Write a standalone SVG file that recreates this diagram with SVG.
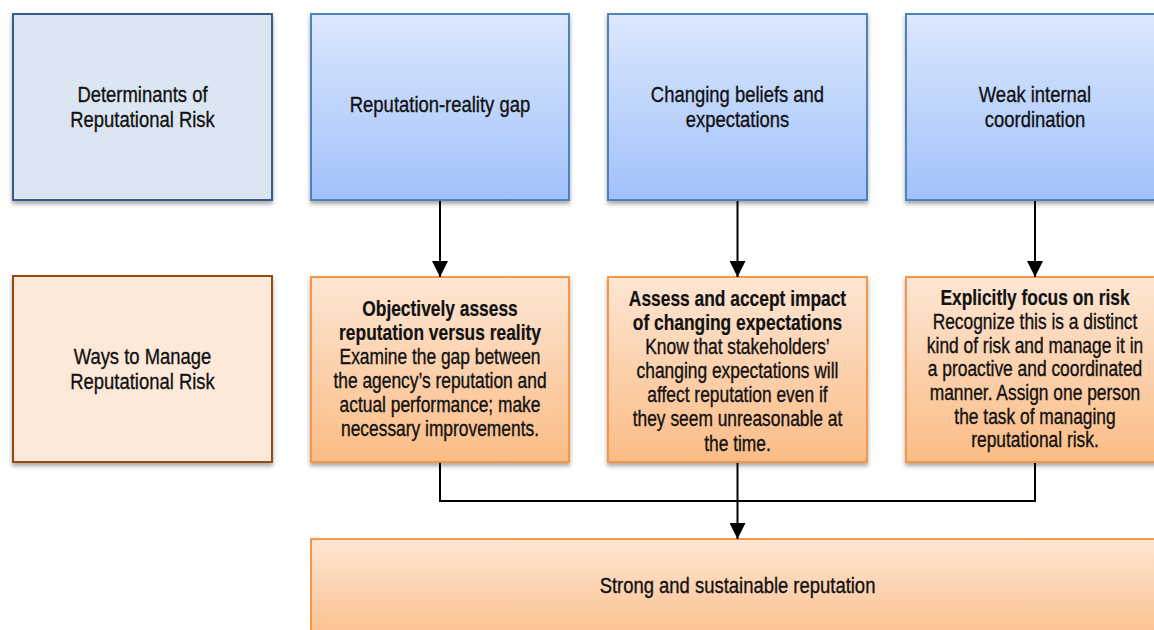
<svg xmlns="http://www.w3.org/2000/svg" width="1154" height="630" viewBox="0 0 1154 630">
  <defs>
    <linearGradient id="gBlue" x1="0" y1="0" x2="0" y2="1">
      <stop offset="0" stop-color="#dce8fe"/>
      <stop offset="1" stop-color="#a1c1fa"/>
    </linearGradient>
    <linearGradient id="gOrange" x1="0" y1="0" x2="0" y2="1">
      <stop offset="0" stop-color="#fde6d4"/>
      <stop offset="1" stop-color="#fbbc86"/>
    </linearGradient>
    <filter id="shadow" x="-5%" y="-5%" width="110%" height="115%">
      <feDropShadow dx="0" dy="3" stdDeviation="2" flood-color="#000" flood-opacity="0.35"/>
    </filter>
    <marker id="arrow" markerUnits="userSpaceOnUse" markerWidth="16" markerHeight="16" refX="16" refY="8" orient="auto">
      <path d="M0,0 L16,8 L0,16 z" fill="#000"/>
    </marker>
  </defs>
  <style>
    text { font-family: "Liberation Sans", Arial, sans-serif; fill: #111; stroke: #111; stroke-width: 0.35px; text-anchor: middle; }
    .lbl { font-size: 22.5px; }
    .body { font-size: 21.2px; }
    .b { font-weight: bold; stroke-width: 0.2px; }
    .hdrL { fill: #dce6f2; stroke: #385d8a; stroke-width: 2; }
    .wayL { fill: #fde9d9; stroke: #984807; stroke-width: 2; }
    .blue { fill: url(#gBlue); stroke: #4f81bd; stroke-width: 2; }
    .orange { fill: url(#gOrange); stroke: #f79646; stroke-width: 2; }
    .conn { fill: none; stroke: #000; stroke-width: 2; }
  </style>

  <g id="determinants">
    <rect class="hdrL" x="13" y="14" width="259" height="186" filter="url(#shadow)"/>
    <g transform="translate(142.5 0) scale(0.82 1)">
      <text class="lbl" x="0" y="102">Determinants of</text>
      <text class="lbl" x="0" y="127">Reputational Risk</text>
    </g>
  </g>
  <g id="gap">
    <rect class="blue" x="311" y="14" width="258" height="186" filter="url(#shadow)"/>
    <g transform="translate(440 0) scale(0.82 1)">
      <text class="lbl" x="0" y="112">Reputation-reality gap</text>
    </g>
  </g>
  <g id="beliefs">
    <rect class="blue" x="608" y="14" width="259" height="186" filter="url(#shadow)"/>
    <g transform="translate(737.5 0) scale(0.82 1)">
      <text class="lbl" x="0" y="102">Changing beliefs and</text>
      <text class="lbl" x="0" y="127">expectations</text>
    </g>
  </g>
  <g id="coordination">
    <rect class="blue" x="906" y="14" width="259" height="186" filter="url(#shadow)"/>
    <g transform="translate(1035 0) scale(0.82 1)">
      <text class="lbl" x="0" y="102">Weak internal</text>
      <text class="lbl" x="0" y="127">coordination</text>
    </g>
  </g>

  <g id="ways">
    <rect class="wayL" x="13" y="276" width="259" height="186" filter="url(#shadow)"/>
    <g transform="translate(142.5 0) scale(0.82 1)">
      <text class="lbl" x="0" y="364">Ways to Manage</text>
      <text class="lbl" x="0" y="389">Reputational Risk</text>
    </g>
  </g>
  <g id="assess">
    <rect class="orange" x="311" y="277" width="258" height="185" filter="url(#shadow)"/>
    <g transform="translate(440 0) scale(0.82 1)">
      <text class="body b" x="0" y="316">Objectively assess</text>
      <text class="body b" x="0" y="340">reputation versus reality</text>
      <text class="body" x="0" y="364">Examine the gap between</text>
      <text class="body" x="0" y="388">the agency’s reputation and</text>
      <text class="body" x="0" y="412">actual performance; make</text>
      <text class="body" x="0" y="436">necessary improvements.</text>
    </g>
  </g>
  <g id="accept">
    <rect class="orange" x="608" y="277" width="259" height="185" filter="url(#shadow)"/>
    <g transform="translate(737.5 0) scale(0.82 1)">
      <text class="body b" x="0" y="306">Assess and accept impact</text>
      <text class="body b" x="0" y="330">of changing expectations</text>
      <text class="body" x="0" y="354">Know that stakeholders’</text>
      <text class="body" x="0" y="378">changing expectations will</text>
      <text class="body" x="0" y="402">affect reputation even if</text>
      <text class="body" x="0" y="426">they seem unreasonable at</text>
      <text class="body" x="0" y="451">the time.</text>
    </g>
  </g>
  <g id="focus">
    <rect class="orange" x="906" y="277" width="259" height="185" filter="url(#shadow)"/>
    <g transform="translate(1035 0) scale(0.82 1)">
      <text class="body b" x="0" y="305">Explicitly focus on risk</text>
      <text class="body" x="0" y="329">Recognize this is a distinct</text>
      <text class="body" x="0" y="353">kind of risk and manage it in</text>
      <text class="body" x="0" y="376">a proactive and coordinated</text>
      <text class="body" x="0" y="400">manner. Assign one person</text>
      <text class="body" x="0" y="424">the task of managing</text>
      <text class="body" x="0" y="447">reputational risk.</text>
    </g>
  </g>

  <g id="outcome">
    <rect class="orange" x="311" y="539" width="854" height="110"/>
    <g transform="translate(737.5 0) scale(0.82 1)">
      <text class="lbl" x="0" y="593">Strong and sustainable reputation</text>
    </g>
  </g>

  <g id="connectors">
    <line class="conn" x1="440" y1="201" x2="440" y2="277" marker-end="url(#arrow)"/>
    <line class="conn" x1="737.5" y1="201" x2="737.5" y2="277" marker-end="url(#arrow)"/>
    <line class="conn" x1="1035" y1="201" x2="1035" y2="277" marker-end="url(#arrow)"/>
    <polyline class="conn" points="440,463 440,501 1035,501 1035,463"/>
    <line class="conn" x1="737.5" y1="463" x2="737.5" y2="539" marker-end="url(#arrow)"/>
  </g>
</svg>
